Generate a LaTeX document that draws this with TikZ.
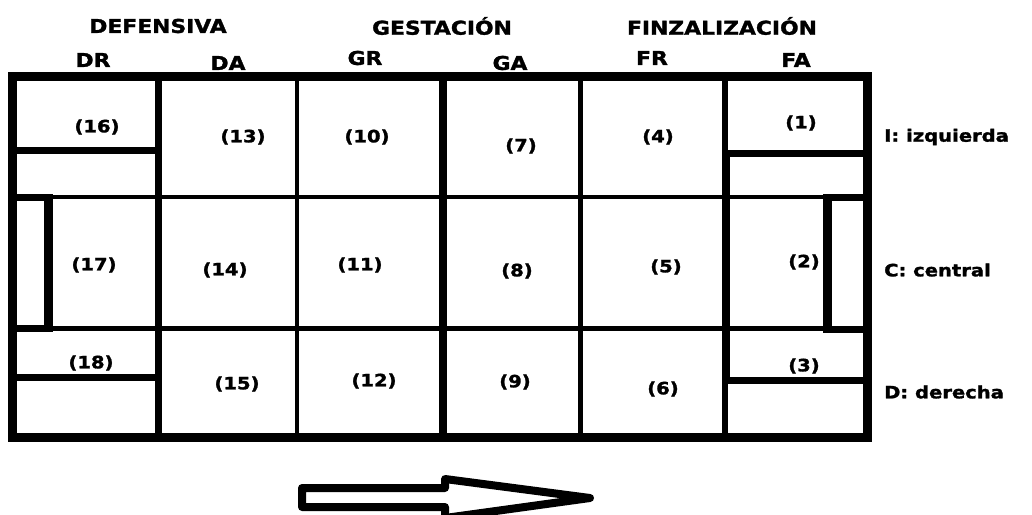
\documentclass[tikz,border=0pt]{standalone}
\usepackage{fontspec}
\setmainfont{DejaVu Sans}[FakeStretch=1.15, BoldFeatures={FakeBold=1.6}]
\begin{document}
\begin{tikzpicture}[x=1pt,y=-1pt,
  lbl/.style={font=\bfseries\fontsize{19}{19}\selectfont, inner sep=0pt},
  num/.style={font=\bfseries\fontsize{17}{17}\selectfont, inner sep=0pt},
  side/.style={font=\bfseries\fontsize{17}{17}\selectfont, inner sep=0pt, anchor=west},
  edge/.style={line width=9pt},
  thick/.style={line width=7pt},
  thin/.style={line width=4.5pt},
  goal/.style={line width=9pt}]
\useasboundingbox (0,0) rectangle (1032,514);
\clip (0,0) rectangle (1032,514);
% grid
\draw[thin] (12,197) -- (867,197);
\draw[thin] (12,328.5) -- (867,328.5);
\draw[thick] (158,76) -- (158,437);
\draw[thin] (297,76) -- (297,437);
\draw[line width=8pt] (442.5,76) -- (442.5,437);
\draw[thin] (580.5,76) -- (580.5,437);
\draw[line width=6pt] (725,76) -- (725,437);
% left boxes
\draw[thick] (12,150.5) -- (158,150.5) -- (158,377) -- (12,377);
\draw[line width=7pt] (12,197) -- (48,197);
\draw[line width=7pt] (12,328.5) -- (48,328.5);
\draw[goal] (48,194) -- (48,332);
% right boxes
\draw[thick] (867,153.5) -- (726,153.5) -- (726,380.5) -- (867,380.5);
\draw[line width=7pt] (827,197) -- (867,197);
\draw[line width=7pt] (827,329.5) -- (867,329.5);
\draw[goal] (827.5,194) -- (827.5,333);
% outer
\draw[edge] (12.5,76) rectangle (867.5,437.5);
% headings
\node[lbl] (hd) at (158,26) {DEFENSIVA};
\node[lbl] (hg) at (442,26) {GESTACIÓN};
\node[lbl] (hf) at (722,26) {FINZALIZACIÓN};
\node[lbl] (dr) at (93,60) {DR};
\node[lbl] (da) at (228,63) {DA};
\node[lbl] (gr) at (365,58) {GR};
\node[lbl] (ga) at (510,63) {GA};
\node[lbl] (fr) at (652,58) {FR};
\node[lbl] (fa) at (796,60) {FA};
% numbers
\node[num] (n16) at (97,127) {(16)};
\node[num] (n13) at (243,137) {(13)};
\node[num] (n10) at (367,137) {(10)};
\node[num] (n7) at (521,146) {(7)};
\node[num] (n4) at (658,137) {(4)};
\node[num] (n1) at (801,123) {(1)};
\node[num] (n17) at (94,265) {(17)};
\node[num] (n14) at (225,270) {(14)};
\node[num] (n11) at (360,265) {(11)};
\node[num] (n8) at (517,271) {(8)};
\node[num] (n5) at (666,267) {(5)};
\node[num] (n2) at (804,262) {(2)};
\node[num] (n18) at (91,363) {(18)};
\node[num] (n15) at (237,384) {(15)};
\node[num] (n12) at (374,381) {(12)};
\node[num] (n9) at (515,382) {(9)};
\node[num] (n6) at (663,389) {(6)};
\node[num] (n3) at (804,366) {(3)};
% side labels
\node[side] (si) at (884,137) {I: izquierda};
\node[side] (sc) at (884,270) {C: central};
\node[side] (sd) at (884,392) {D: derecha};
% arrow
\draw[line width=8pt, line join=round] (445,518) -- (445,507) -- (302,507) -- (302,488) -- (445,488) -- (445,479) -- (590,498) -- (445,518);
\end{tikzpicture}
\end{document}
